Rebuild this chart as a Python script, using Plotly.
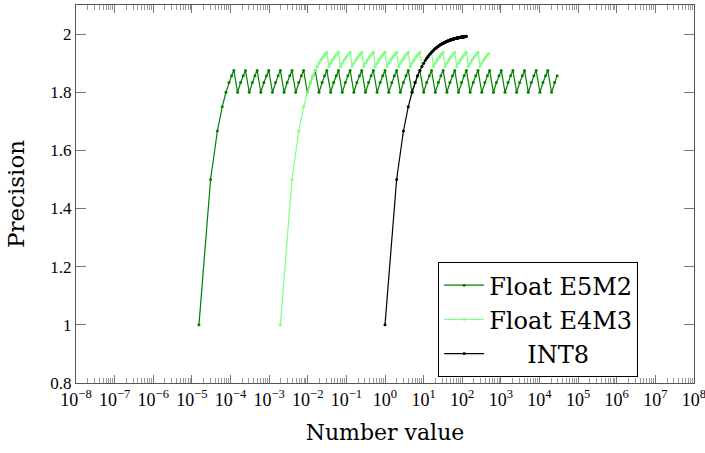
import plotly.graph_objects as go

# ---------------- data ----------------
e5m2_x = [
    1.5259e-5, 3.0518e-5, 4.5776e-5,
    6.1035e-5, 7.6294e-5, 9.1553e-5, 1.0681e-4,
    1.2207e-4, 1.5259e-4, 1.8311e-4, 2.1362e-4,
    2.4414e-4, 3.0518e-4, 3.6621e-4, 4.2725e-4,
    4.8828e-4, 6.1035e-4, 7.3242e-4, 8.5449e-4,
    9.7656e-4, 1.2207e-3, 1.4648e-3, 1.7090e-3,
    1.9531e-3, 2.4414e-3, 2.9297e-3, 3.4180e-3,
    3.9063e-3, 4.8828e-3, 5.8594e-3, 6.8359e-3,
    7.8125e-3, 9.7656e-3, 0.011719, 0.013672,
    0.015625, 0.019531, 0.023438, 0.027344,
    0.03125, 0.039063, 0.046875, 0.054688,
    0.0625, 0.078125, 0.09375, 0.10938,
    0.125, 0.15625, 0.1875, 0.21875,
    0.25, 0.3125, 0.375, 0.4375,
    0.5, 0.625, 0.75, 0.875,
    1, 1.25, 1.5, 1.75,
    2, 2.5, 3, 3.5,
    4, 5, 6, 7,
    8, 10, 12, 14,
    16, 20, 24, 28,
    32, 40, 48, 56,
    64, 80, 96, 112,
    128, 160, 192, 224,
    256, 320, 384, 448,
    512, 640, 768, 896,
    1024, 1280, 1536, 1792,
    2048, 2560, 3072, 3584,
    4096, 5120, 6144, 7168,
    8192, 10240, 12288, 14336,
    16384, 20480, 24576, 28672,
]
e5m2_y = [
    1, 1.5, 1.6667,
    1.75, 1.8, 1.8333, 1.8571,
    1.875, 1.8, 1.8333, 1.8571,
    1.875, 1.8, 1.8333, 1.8571,
    1.875, 1.8, 1.8333, 1.8571,
    1.875, 1.8, 1.8333, 1.8571,
    1.875, 1.8, 1.8333, 1.8571,
    1.875, 1.8, 1.8333, 1.8571,
    1.875, 1.8, 1.8333, 1.8571,
    1.875, 1.8, 1.8333, 1.8571,
    1.875, 1.8, 1.8333, 1.8571,
    1.875, 1.8, 1.8333, 1.8571,
    1.875, 1.8, 1.8333, 1.8571,
    1.875, 1.8, 1.8333, 1.8571,
    1.875, 1.8, 1.8333, 1.8571,
    1.875, 1.8, 1.8333, 1.8571,
    1.875, 1.8, 1.8333, 1.8571,
    1.875, 1.8, 1.8333, 1.8571,
    1.875, 1.8, 1.8333, 1.8571,
    1.875, 1.8, 1.8333, 1.8571,
    1.875, 1.8, 1.8333, 1.8571,
    1.875, 1.8, 1.8333, 1.8571,
    1.875, 1.8, 1.8333, 1.8571,
    1.875, 1.8, 1.8333, 1.8571,
    1.875, 1.8, 1.8333, 1.8571,
    1.875, 1.8, 1.8333, 1.8571,
    1.875, 1.8, 1.8333, 1.8571,
    1.875, 1.8, 1.8333, 1.8571,
    1.875, 1.8, 1.8333, 1.8571,
    1.875, 1.8, 1.8333, 1.8571,
]

e4m3_x = [
    0.0019531, 0.0039063, 0.0058594, 0.0078125, 0.0097656, 0.011719, 0.013672,
    0.015625, 0.017578, 0.019531, 0.021484, 0.023438, 0.025391, 0.027344, 0.029297,
    0.03125, 0.035156, 0.039063, 0.042969, 0.046875, 0.050781, 0.054688, 0.058594,
    0.0625, 0.070313, 0.078125, 0.085938, 0.09375, 0.10156, 0.10938, 0.11719,
    0.125, 0.14063, 0.15625, 0.17188, 0.1875, 0.20313, 0.21875, 0.23438,
    0.25, 0.28125, 0.3125, 0.34375, 0.375, 0.40625, 0.4375, 0.46875,
    0.5, 0.5625, 0.625, 0.6875, 0.75, 0.8125, 0.875, 0.9375,
    1, 1.125, 1.25, 1.375, 1.5, 1.625, 1.75, 1.875,
    2, 2.25, 2.5, 2.75, 3, 3.25, 3.5, 3.75,
    4, 4.5, 5, 5.5, 6, 6.5, 7, 7.5,
    8, 9, 10, 11, 12, 13, 14, 15,
    16, 18, 20, 22, 24, 26, 28, 30,
    32, 36, 40, 44, 48, 52, 56, 60,
    64, 72, 80, 88, 96, 104, 112, 120,
    128, 144, 160, 176, 192, 208, 224, 240,
    256, 288, 320, 352, 384, 416, 448, 480,
]
e4m3_y = [
    1, 1.5, 1.6667, 1.75, 1.8, 1.8333, 1.8571,
    1.875, 1.8889, 1.9, 1.9091, 1.9167, 1.9231, 1.9286, 1.9333,
    1.9375, 1.8889, 1.9, 1.9091, 1.9167, 1.9231, 1.9286, 1.9333,
    1.9375, 1.8889, 1.9, 1.9091, 1.9167, 1.9231, 1.9286, 1.9333,
    1.9375, 1.8889, 1.9, 1.9091, 1.9167, 1.9231, 1.9286, 1.9333,
    1.9375, 1.8889, 1.9, 1.9091, 1.9167, 1.9231, 1.9286, 1.9333,
    1.9375, 1.8889, 1.9, 1.9091, 1.9167, 1.9231, 1.9286, 1.9333,
    1.9375, 1.8889, 1.9, 1.9091, 1.9167, 1.9231, 1.9286, 1.9333,
    1.9375, 1.8889, 1.9, 1.9091, 1.9167, 1.9231, 1.9286, 1.9333,
    1.9375, 1.8889, 1.9, 1.9091, 1.9167, 1.9231, 1.9286, 1.9333,
    1.9375, 1.8889, 1.9, 1.9091, 1.9167, 1.9231, 1.9286, 1.9333,
    1.9375, 1.8889, 1.9, 1.9091, 1.9167, 1.9231, 1.9286, 1.9333,
    1.9375, 1.8889, 1.9, 1.9091, 1.9167, 1.9231, 1.9286, 1.9333,
    1.9375, 1.8889, 1.9, 1.9091, 1.9167, 1.9231, 1.9286, 1.9333,
    1.9375, 1.8889, 1.9, 1.9091, 1.9167, 1.9231, 1.9286, 1.9333,
    1.9375, 1.8889, 1.9, 1.9091, 1.9167, 1.9231, 1.9286, 1.9333,
]

int8_x = [
    1, 2, 3, 4, 5, 6, 7, 8, 9, 10, 11, 12, 13, 14, 15, 16, 17, 18, 19, 20,
    21, 22, 23, 24, 25, 26, 27, 28, 29, 30, 31, 32, 33, 34, 35, 36, 37, 38, 39, 40,
    41, 42, 43, 44, 45, 46, 47, 48, 49, 50, 51, 52, 53, 54, 55, 56, 57, 58, 59, 60,
    61, 62, 63, 64, 65, 66, 67, 68, 69, 70, 71, 72, 73, 74, 75, 76, 77, 78, 79, 80,
    81, 82, 83, 84, 85, 86, 87, 88, 89, 90, 91, 92, 93, 94, 95, 96, 97, 98, 99, 100,
    101, 102, 103, 104, 105, 106, 107, 108, 109, 110, 111, 112, 113, 114, 115, 116,
    117, 118, 119, 120, 121, 122, 123, 124, 125, 126, 127,
]
int8_y = [
    1, 1.5, 1.6667, 1.75, 1.8, 1.8333, 1.8571, 1.875, 1.8889, 1.9,
    1.9091, 1.9167, 1.9231, 1.9286, 1.9333, 1.9375, 1.9412, 1.9444, 1.9474, 1.95,
    1.9524, 1.9545, 1.9565, 1.9583, 1.96, 1.9615, 1.963, 1.9643, 1.9655, 1.9667,
    1.9677, 1.9688, 1.9697, 1.9706, 1.9714, 1.9722, 1.973, 1.9737, 1.9744, 1.975,
    1.9756, 1.9762, 1.9767, 1.9773, 1.9778, 1.9783, 1.9787, 1.9792, 1.9796, 1.98,
    1.9804, 1.9808, 1.9811, 1.9815, 1.9818, 1.9821, 1.9825, 1.9828, 1.9831, 1.9833,
    1.9836, 1.9839, 1.9841, 1.9844, 1.9846, 1.9848, 1.9851, 1.9853, 1.9855, 1.9857,
    1.9859, 1.9861, 1.9863, 1.9865, 1.9867, 1.9868, 1.987, 1.9872, 1.9873, 1.9875,
    1.9877, 1.9878, 1.988, 1.9881, 1.9882, 1.9884, 1.9885, 1.9886, 1.9888, 1.9889,
    1.989, 1.9891, 1.9892, 1.9894, 1.9895, 1.9896, 1.9897, 1.9898, 1.9899, 1.99,
    1.9901, 1.9902, 1.9903, 1.9904, 1.9905, 1.9906, 1.9907, 1.9907, 1.9908, 1.9909,
    1.991, 1.9911, 1.9912, 1.9912, 1.9913, 1.9914, 1.9915, 1.9915, 1.9916, 1.9917,
    1.9917, 1.9918, 1.9919, 1.9919, 1.992, 1.9921, 1.9921,
]

x_tick_vals = [1e-8, 1e-7, 1e-6, 1e-5, 1e-4, 1e-3, 1e-2, 1e-1, 1,
               1e1, 1e2, 1e3, 1e4, 1e5, 1e6, 1e7, 1e8]
x_tick_text = ["10<sup>\u22128</sup>", "10<sup>\u22127</sup>", "10<sup>\u22126</sup>",
               "10<sup>\u22125</sup>", "10<sup>\u22124</sup>", "10<sup>\u22123</sup>",
               "10<sup>\u22122</sup>", "10<sup>\u22121</sup>", "10<sup>0</sup>",
               "10<sup>1</sup>", "10<sup>2</sup>", "10<sup>3</sup>", "10<sup>4</sup>",
               "10<sup>5</sup>", "10<sup>6</sup>", "10<sup>7</sup>", "10<sup>8</sup>"]
y_tick_vals = [0.8, 1.0, 1.2, 1.4, 1.6, 1.8, 2.0]
y_tick_text = ["0.8", "1", "1.2", "1.4", "1.6", "1.8", "2"]

series_names = ["Float E5M2", "Float E4M3", "\u00a0\u00a0\u00a0\u00a0\u00a0INT8"]
series_colors = ["#008000", "#80ff80", "#000000"]

# ---------------- figure ----------------
FONT = "Liberation Serif"
FONT_BIG = "DejaVu Serif"
fig = go.Figure()
for name, xs, ys, col in zip(series_names, [e5m2_x, e4m3_x, int8_x],
                             [e5m2_y, e4m3_y, int8_y], series_colors):
    fig.add_trace(go.Scatter(
        x=xs, y=ys, name=name, mode="lines+markers",
        line=dict(color=col, width=1.2),
        marker=dict(color=col, size=3, symbol="circle"),
    ))

axis_line = "#555555"
fig.update_layout(
    width=705, height=453,
    margin=dict(l=76, r=11, t=5, b=70),
    paper_bgcolor="white", plot_bgcolor="white",
    font=dict(family=FONT, color="black"),
    showlegend=True,
    legend=dict(
        x=0.586, y=0.32, xanchor="left", yanchor="top",
        bordercolor="black", borderwidth=1, bgcolor="white",
        font=dict(family=FONT_BIG, size=24, color="black"),
        itemwidth=40, tracegroupgap=0,
    ),
    xaxis=dict(
        type="log", range=[-8, 8], automargin=False,
        tickvals=x_tick_vals, ticktext=x_tick_text,
        ticklabeloverflow="allow",
        ticks="inside", ticklen=8, tickcolor="#777777", tickwidth=1,
        minor=dict(ticks="inside", ticklen=5, dtick="D1", tickcolor="#999999",
                   tickwidth=1, showgrid=False),
        showline=True, linecolor=axis_line, linewidth=1, mirror="allticks",
        showgrid=False, zeroline=False,
        tickfont=dict(family=FONT, size=18, color="black"),
        title=dict(text="Number value", font=dict(family=FONT_BIG, size=22, color="black"),
                   standoff=16),
    ),
    yaxis=dict(
        range=[0.8, 2.1], automargin=False,
        tickvals=y_tick_vals, ticktext=y_tick_text,
        ticks="inside", ticklen=10, tickcolor="#777777", tickwidth=1,
        showline=True, linecolor=axis_line, linewidth=1, mirror="allticks",
        showgrid=False, zeroline=False,
        tickfont=dict(family=FONT, size=17, color="black"),
        title=dict(text="Precision", font=dict(family=FONT_BIG, size=23, color="black"),
                   standoff=19),
    ),
)

fig.write_html("out.html", config={"displayModeBar": False},
               post_script="document.body.style.margin='0px';")
